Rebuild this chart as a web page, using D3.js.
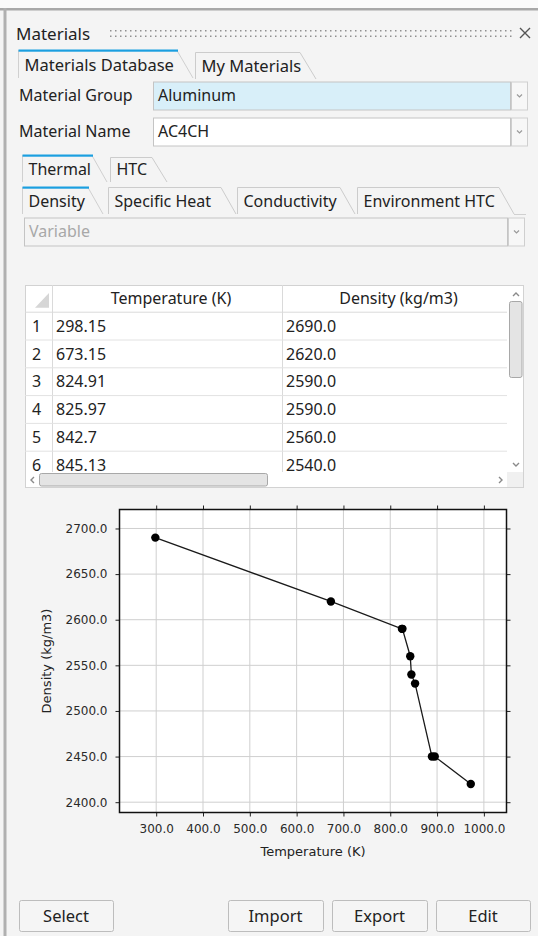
<!DOCTYPE html>
<html><head><meta charset="utf-8">
<script src="https://cdn.jsdelivr.net/npm/d3@7"></script>
<style>
html,body{margin:0;padding:0;background:#f4f4f4;}
svg{display:block;}
</style></head>
<body>
<script>
// ---- data ----
const temperature = [298.15, 673.15, 824.91, 825.97, 842.7, 845.13, 853, 889, 895, 972];
const density = [2690, 2620, 2590, 2590, 2560, 2540, 2530, 2450, 2450, 2420];
const tableTemp = ["298.15", "673.15", "824.91", "825.97", "842.7", "845.13"];
const tableDens = ["2690.0", "2620.0", "2590.0", "2590.0", "2560.0", "2540.0"];
const xTicks = [300, 400, 500, 600, 700, 800, 900, 1000];
const yTicks = [2400, 2450, 2500, 2550, 2600, 2650, 2700];
const topTabs = ["Materials Database", "My Materials"];
const midTabs = ["Thermal", "HTC"];
const subTabs = ["Density", "Specific Heat", "Conductivity", "Environment HTC"];
const buttons = ["Select", "Import", "Export", "Edit"];

const W = 538, H = 936;
const UI = "'Noto Sans', 'Open Sans', sans-serif";
const CF = "'DejaVu Sans', sans-serif";
const TXT = "#222";
const svg = d3.select("body").append("svg").attr("width", W).attr("height", H);

// background
svg.append("rect").attr("width", W).attr("height", H).attr("fill", "#f4f4f4");
svg.append("rect").attr("width", W).attr("height", 8).attr("fill", "#fafafa");
svg.append("rect").attr("x", 0).attr("y", 8).attr("width", W).attr("height", 2.5).attr("fill", "#a8a8a8");
svg.append("rect").attr("x", 3.5).attr("y", 8).attr("width", 3).attr("height", H).attr("fill", "#b0b0b0");

// title
svg.append("text").attr("x", 16).attr("y", 39.5).attr("font-family", UI).attr("font-size", 17)
  .attr("fill", TXT).text("Materials");
const grip = svg.append("g").attr("fill", "#8f8f8f");
for (let x = 110; x <= 510; x += 5) {
  grip.append("rect").attr("x", x).attr("y", 30).attr("width", 1.5).attr("height", 1.5);
  grip.append("rect").attr("x", x).attr("y", 35.5).attr("width", 1.5).attr("height", 1.5);
}
svg.append("path").attr("d", "M520,28 L530,38 M530,28 L520,38").attr("stroke", "#555").attr("stroke-width", 1.4);

function tab(g, x0, x1, top, bottom, slant, label, active, fs) {
  g.append("path").attr("d", `M${x0},${bottom} L${x0},${top} L${x1},${top} L${x1 + slant},${bottom}`)
    .attr("fill", "#f4f4f4").attr("stroke", active ? "#d0d0d0" : "#cccccc").attr("stroke-width", 1);
  if (active) {
    g.append("rect").attr("x", x0).attr("y", top - 1).attr("width", x1 - x0 + 1).attr("height", 2.2).attr("fill", "#1b9fe0");
  }
  g.append("text").attr("x", x0 + 6).attr("y", bottom - 7).attr("font-family", UI).attr("font-size", fs)
    .attr("fill", TXT).text(label);
}
const tabs = svg.append("g");
tab(tabs, 18.5, 177, 50.5, 78, 16, topTabs[0], true, 16.5);
tab(tabs, 195.5, 300, 52.5, 79, 16, topTabs[1], false, 16.5);

function combo(y, label, value, fill, vcol, x0, x1) {
  const g = svg.append("g");
  if (label) g.append("text").attr("x", 19).attr("y", y + 19).attr("font-family", UI).attr("font-size", 16).attr("fill", TXT).text(label);
  g.append("rect").attr("x", x0 + 0.5).attr("y", y + 0.5).attr("width", x1 - x0).attr("height", 28).attr("fill", fill).attr("stroke", "#c4c4c4");
  g.append("text").attr("x", x0 + 5).attr("y", y + 19).attr("font-family", UI).attr("font-size", 16).attr("fill", vcol).text(value);
  g.append("rect").attr("x", x1 + 1.5).attr("y", y + 0.5).attr("width", 16).attr("height", 28).attr("fill", "#f7f7f7").attr("stroke", "#cfcfcf");
  g.append("path").attr("d", `M${x1 + 7},${y + 13} L${x1 + 9.5},${y + 15.5} L${x1 + 12},${y + 13}`).attr("fill", "none").attr("stroke", "#9a9a9a").attr("stroke-width", 1.2);
}
combo(81.5, "Material Group", "Aluminum", "#d8eff9", TXT, 153, 510);
combo(117.5, "Material Name", "AC4CH", "#ffffff", TXT, 153, 510);

tab(tabs, 22.5, 92, 155.5, 182, 15, midTabs[0], true, 16);
tab(tabs, 110.5, 152, 157.5, 182, 15, midTabs[1], false, 16);
const subX = [[22.5, 88], [108.5, 221], [237.5, 340], [357.5, 499]];
subTabs.forEach((s, i) => tab(tabs, subX[i][0], subX[i][1], 187.5, 214, 15, s, i === 0, 16));
svg.append("line").attr("x1", 514).attr("x2", 526).attr("y1", 214.5).attr("y2", 214.5).attr("stroke", "#d0d0d0");

combo(217.5, null, "Variable", "#f4f4f4", "#a8a8a8", 24, 507);

// ---- table ----
const tb = svg.append("g");
const tx0 = 25, tx1 = 524, ty0 = 285, ty1 = 488, hdrB = 311.7, rowH = 27.8, colN = 52, colD = 282, vsb = 507, hsb = 472;
const TF = 16;
tb.append("rect").attr("x", tx0 + 0.5).attr("y", ty0 + 0.5).attr("width", tx1 - tx0 - 1).attr("height", ty1 - ty0 - 1).attr("fill", "#fff").attr("stroke", "#d2d2d2");
tb.append("path").attr("d", `M${colN - 3},${ty0 + 8} L${colN - 3},${hdrB - 4} L${colN - 17},${hdrB - 4} Z`).attr("fill", "#d6d6d6");
tb.append("line").attr("x1", tx0).attr("x2", vsb).attr("y1", hdrB + 0.5).attr("y2", hdrB + 0.5).attr("stroke", "#dadada");
[colN, colD].forEach(c => tb.append("line").attr("x1", c + 0.5).attr("x2", c + 0.5).attr("y1", ty0).attr("y2", hsb).attr("stroke", "#dadada"));
tb.append("text").attr("x", (colN + colD) / 2 + 4).attr("y", ty0 + 19).attr("text-anchor", "middle").attr("font-family", UI).attr("font-size", TF).attr("fill", TXT).text("Temperature (K)");
tb.append("text").attr("x", (colD + vsb) / 2 + 4).attr("y", ty0 + 19).attr("text-anchor", "middle").attr("font-family", UI).attr("font-size", TF).attr("fill", TXT).text("Density (kg/m3)");
const clip = svg.append("clipPath").attr("id", "rowsClip");
clip.append("rect").attr("x", tx0).attr("y", hdrB).attr("width", vsb - tx0).attr("height", hsb - hdrB);
const rows = tb.append("g").attr("clip-path", "url(#rowsClip)");
tableTemp.forEach((t, i) => {
  const y = hdrB + rowH * i;
  rows.append("line").attr("x1", tx0).attr("x2", vsb).attr("y1", y + rowH + 0.5).attr("y2", y + rowH + 0.5).attr("stroke", "#e2e2e2");
  rows.append("text").attr("x", 32).attr("y", y + 20).attr("font-family", UI).attr("font-size", TF).attr("fill", TXT).text(i + 1);
  rows.append("text").attr("x", colN + 4).attr("y", y + 20).attr("font-family", UI).attr("font-size", TF).attr("fill", TXT).text(t);
  rows.append("text").attr("x", colD + 4).attr("y", y + 20).attr("font-family", UI).attr("font-size", TF).attr("fill", TXT).text(tableDens[i]);
});
// scrollbars
tb.append("rect").attr("x", 509.5).attr("y", 301.5).attr("width", 12.5).attr("height", 76).attr("rx", 2).attr("fill", "#e4e4e4").attr("stroke", "#a8a8a8");
tb.append("path").attr("d", "M513,296 L516,293 L519,296").attr("fill", "none").attr("stroke", "#8a8a8a").attr("stroke-width", 1.4);
tb.append("path").attr("d", "M513,463 L516,466 L519,463").attr("fill", "none").attr("stroke", "#8a8a8a").attr("stroke-width", 1.4);
tb.append("rect").attr("x", vsb).attr("y", hsb).attr("width", tx1 - vsb - 1).attr("height", ty1 - hsb - 1).attr("fill", "#f0f0f0");
tb.append("rect").attr("x", 39.5).attr("y", 473.5).attr("width", 228).attr("height", 12.5).attr("rx", 2).attr("fill", "#e4e4e4").attr("stroke", "#a8a8a8");
tb.append("path").attr("d", "M34,477 L31,480 L34,483").attr("fill", "none").attr("stroke", "#8a8a8a").attr("stroke-width", 1.4);
tb.append("path").attr("d", "M499,477 L502,480 L499,483").attr("fill", "none").attr("stroke", "#8a8a8a").attr("stroke-width", 1.4);

// ---- chart ----
const cL = 119.5, cR = 506.5, cT = 509.5, cB = 812.5;
const x = d3.scaleLinear().domain([221.6, 1048.3]).range([cL, cR]);
const y = d3.scaleLinear().domain([2388.7, 2720.8]).range([cB, cT]);
const ch = svg.append("g");
ch.append("rect").attr("x", cL).attr("y", cT).attr("width", cR - cL).attr("height", cB - cT).attr("fill", "#fff");
const grid = ch.append("g").attr("stroke", "#cfcfcf").attr("stroke-width", 1);
xTicks.forEach(t => grid.append("line").attr("x1", x(t)).attr("x2", x(t)).attr("y1", cT).attr("y2", cB));
yTicks.forEach(t => grid.append("line").attr("x1", cL).attr("x2", cR).attr("y1", y(t)).attr("y2", y(t)));

const fmt = d3.format(".1f");
function styleAxis(g, showLabels) {
  g.select(".domain").remove();
  g.selectAll(".tick line").attr("stroke", "#222");
  g.selectAll(".tick text").attr("font-family", CF).attr("font-size", 12).attr("fill", "#2a2a2a");
  if (!showLabels) g.selectAll(".tick text").remove();
}
ch.append("g").attr("transform", `translate(0,${cB})`).call(d3.axisBottom(x).tickValues(xTicks).tickFormat(fmt).tickSize(4).tickPadding(8)).call(g => styleAxis(g, true));
ch.append("g").attr("transform", `translate(0,${cT})`).call(d3.axisTop(x).tickValues(xTicks).tickSize(4)).call(g => styleAxis(g, false));
ch.append("g").attr("transform", `translate(${cL},0)`).call(d3.axisLeft(y).tickValues(yTicks).tickFormat(fmt).tickSize(4).tickPadding(8)).call(g => styleAxis(g, true));
ch.append("g").attr("transform", `translate(${cR},0)`).call(d3.axisRight(y).tickValues(yTicks).tickSize(4)).call(g => styleAxis(g, false));
ch.append("rect").attr("x", cL).attr("y", cT).attr("width", cR - cL).attr("height", cB - cT).attr("fill", "none").attr("stroke", "#111").attr("stroke-width", 1.5);

const pts = temperature.map((t, i) => [t, density[i]]);
ch.append("path").datum(pts).attr("d", d3.line().x(d => x(d[0])).y(d => y(d[1])))
  .attr("fill", "none").attr("stroke", "#1a1a1a").attr("stroke-width", 1.3);
ch.selectAll("circle.pt").data(pts).enter().append("circle").attr("class", "pt")
  .attr("cx", d => x(d[0])).attr("cy", d => y(d[1])).attr("r", 4.2).attr("fill", "#000");

ch.append("text").attr("x", (cL + cR) / 2).attr("y", 856).attr("text-anchor", "middle").attr("font-family", CF).attr("font-size", 13).attr("fill", "#222").text("Temperature (K)");
ch.append("text").attr("transform", `translate(51,${(cT + cB) / 2}) rotate(-90)`).attr("text-anchor", "middle").attr("font-family", CF).attr("font-size", 13).attr("fill", "#222").text("Density (kg/m3)");

// ---- buttons ----
const btnX = [[19, 113], [228, 323], [332, 427], [436, 530]];
buttons.forEach((b, i) => {
  const [a, c] = btnX[i];
  svg.append("rect").attr("x", a + 0.5).attr("y", 900.5).attr("width", c - a).attr("height", 31).attr("rx", 2).attr("fill", "#f5f5f5").attr("stroke", "#bdbdbd");
  svg.append("text").attr("x", (a + c) / 2).attr("y", 921.5).attr("text-anchor", "middle").attr("font-family", UI).attr("font-size", 16.5).attr("fill", TXT).text(b);
});
</script>
</body></html>
